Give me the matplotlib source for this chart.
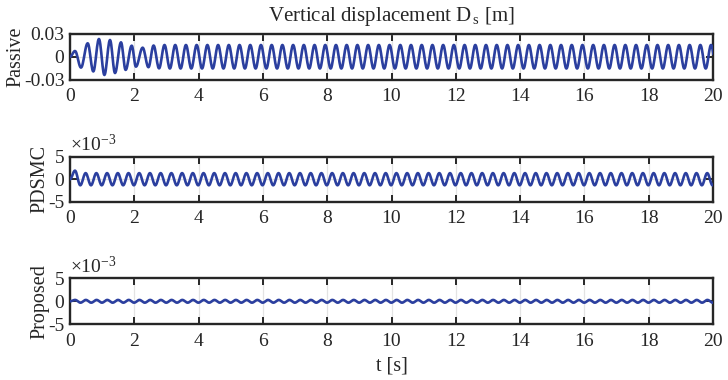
import numpy as np
import matplotlib
matplotlib.use("Agg")
import matplotlib.pyplot as plt

plt.rcParams['font.family'] = ['Liberation Serif', 'DejaVu Serif']
plt.rcParams['mathtext.fontset'] = 'custom'
plt.rcParams['mathtext.rm'] = 'Liberation Serif'
plt.rcParams['mathtext.it'] = 'Liberation Serif:italic'

# ---------------- data ----------------
title = "Vertical displacement D$_{\\,\\mathrm{s}}$ [m]"
xlabel = "t [s]"
panel_labels = ["Passive", "PDSMC", "Proposed"]
x_ticks = [0, 2, 4, 6, 8, 10, 12, 14, 16, 18, 20]

# Passive: transient extrema (time [s], value [m])
passive_t_trans = [0.0, 0.156, 0.342, 0.55, 0.725, 0.90, 1.07, 1.244, 1.40,
                   1.586, 1.73, 1.92, 2.05, 2.26, 2.44, 2.60, 2.77, 2.94]
passive_v_trans = [0.0, 0.0074, -0.014, 0.0174, -0.019, 0.0229, -0.0235,
                   0.0216, -0.021, 0.0186, -0.017, 0.0143, -0.0128, 0.0117,
                   -0.0135, 0.0145, -0.015, 0.0152]
passive_steady_amp = 0.0152
passive_freq = 3.0
passive_yticks = [-0.03, 0, 0.03]
passive_yticklabels = ["-0.03", "0", "0.03"]

# PDSMC (x1e-3)
pdsmc_t_trans = [0.0, 0.155, 0.32]
pdsmc_v_trans = [0.0, 1.9, -1.35]
pdsmc_steady_amp = 1.35
pdsmc_freq = 3.0
# Proposed (x1e-3)
prop_t_trans = [0.0, 0.16]
prop_v_trans = [0.0, 0.3]
prop_steady_amp = 0.3
prop_freq = 3.0
small_yticks = [-5, 0, 5]
small_yticklabels = ["-5", "0", "5"]


def extrema_series(t_tr, v_tr, amp, freq, t_end=20.5):
    """Extend the read transient extrema with the steady extrema."""
    t = list(t_tr)
    v = list(v_tr)
    half = 0.5 / freq
    sign = -np.sign(v[-1])
    while t[-1] < t_end:
        t.append(t[-1] + half)
        v.append(sign * amp)
        sign = -sign
    return np.array(t), np.array(v)


def smooth_through(t_ext, v_ext, n=12):
    ts, vs = [], []
    for i in range(len(t_ext) - 1):
        s = np.linspace(0, 1, n, endpoint=False)
        ts.append(t_ext[i] + (t_ext[i + 1] - t_ext[i]) * s)
        vs.append(v_ext[i] + (v_ext[i + 1] - v_ext[i]) * (1 - np.cos(np.pi * s)) / 2)
    return np.concatenate(ts), np.concatenate(vs)


series = [
    extrema_series(passive_t_trans, passive_v_trans, passive_steady_amp, passive_freq),
    extrema_series(pdsmc_t_trans, pdsmc_v_trans, pdsmc_steady_amp, pdsmc_freq),
    extrema_series(prop_t_trans, prop_v_trans, prop_steady_amp, prop_freq),
]

# ---------------- figure ----------------
W, H = 728, 380
fig = plt.figure(figsize=(W / 100, H / 100), dpi=100)

# (top px, bottom px)
rows = [(33.5, 80.0), (156.7, 201.7), (278.3, 324.3)]
left_px, right_px = 70, 713

line_color = '#2b3f9f'
dark = '#262626'
tick_fs = 14
label_fs = 14.5

for i, ((top, bot), (te, ve)) in enumerate(zip(rows, series)):
    ax = fig.add_axes([left_px / W, 1 - bot / H, (right_px - left_px) / W, (bot - top) / H])
    t, v = smooth_through(te, ve)
    ax.plot(t, v, color=line_color, lw=1.9, zorder=3)
    ax.set_xlim(0, 20)
    ax.set_xticks(x_ticks)
    ax.set_xticklabels([str(x) for x in x_ticks])
    if i == 0:
        ax.set_ylim(-0.03, 0.03)
        ax.set_yticks(passive_yticks)
        ax.set_yticklabels(passive_yticklabels)
    else:
        ax.set_ylim(-5, 5)
        ax.set_yticks(small_yticks)
        ax.set_yticklabels(small_yticklabels)
        ax.text(0.0, 1.03, r'$\times 10^{-3}$', transform=ax.transAxes,
                fontsize=tick_fs, color=dark, ha='left', va='bottom')
    ax.grid(True, color='#e3e3e3', lw=0.9, zorder=0)
    ax.set_axisbelow(True)
    ax.tick_params(direction='in', length=5, width=1.4, top=True, right=True,
                   labelsize=tick_fs, colors=dark)
    ax.tick_params(axis='x', pad=6)
    ax.tick_params(axis='y', pad=4)
    for sp in ax.spines.values():
        sp.set_color(dark)
        sp.set_linewidth(1.7)
    ax.set_ylabel(panel_labels[i], fontsize=label_fs, color=dark, labelpad=-1)
    if i == 0:
        ax.set_title(title, fontsize=15, color=dark, pad=9)
    if i == 2:
        ax.set_xlabel(xlabel, fontsize=label_fs, color=dark, labelpad=5)

fig.savefig("out.png", dpi=100)
